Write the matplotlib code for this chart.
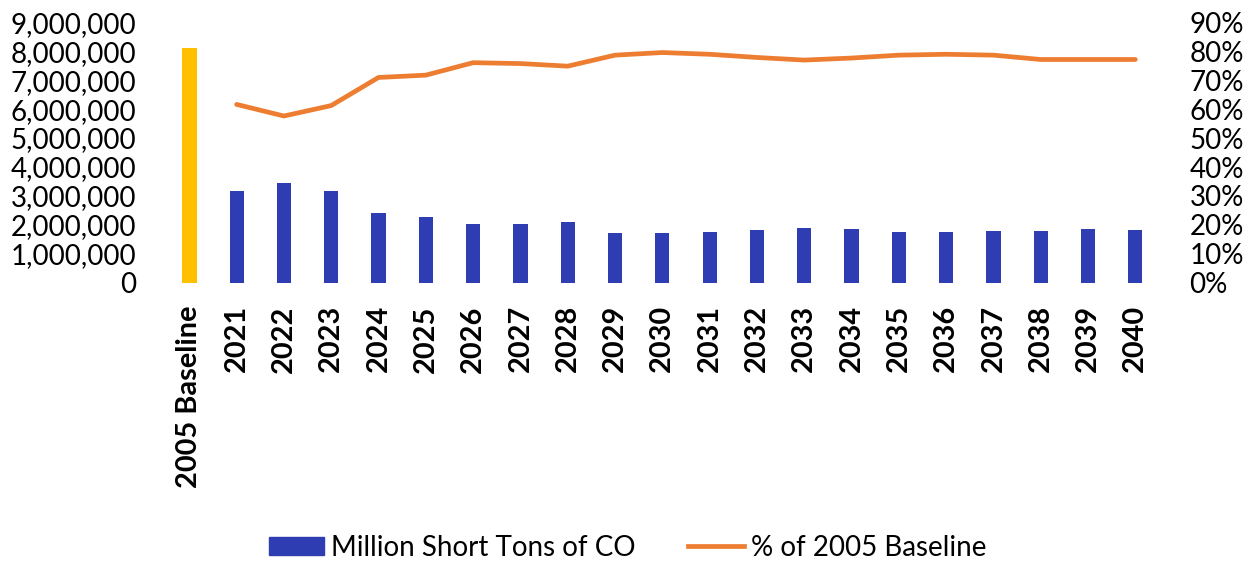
"""CO emissions vs 2005 baseline: bars plus percent line."""
import matplotlib
matplotlib.use("Agg")
import matplotlib.pyplot as plt
from matplotlib.patches import Patch
from matplotlib.lines import Line2D
from matplotlib.ticker import FuncFormatter

plt.rcParams["font.family"] = ["Lato", "DejaVu Sans"]

CATEGORIES = ["2005 Baseline"] + [str(y) for y in range(2021, 2041)]
BASELINE = 8110000
TONS = [3170000, 3460000, 3170000, 2420000, 2260000, 2020000, 2030000, 2100000,
        1730000, 1710000, 1770000, 1830000, 1890000, 1870000, 1760000, 1750000,
        1780000, 1800000, 1850000, 1830000]
PCT = [0.616, 0.576, 0.612, 0.709, 0.717, 0.760, 0.757, 0.748, 0.786, 0.795,
       0.789, 0.778, 0.769, 0.776, 0.786, 0.789, 0.786, 0.771, 0.771, 0.771]

YELLOW = "#FFC000"
BLUE = "#2E3DB2"
ORANGE = "#ED7D31"


def main() -> None:
    fig = plt.figure(figsize=(12.55, 5.67), dpi=100)
    ax = fig.add_axes([0.132, 0.501, 0.7915, 0.46])
    x = list(range(len(CATEGORIES)))

    ax.bar(x[0], BASELINE, width=0.32, color=YELLOW)
    ax.bar(x[1:], TONS, width=0.3, color=BLUE)
    ax.set_ylim(0, 9000000)
    ax.set_xlim(-0.5, len(CATEGORIES) - 0.5)
    ax.set_yticks(range(0, 9000001, 1000000))
    ax.yaxis.set_major_formatter(FuncFormatter(lambda v, _: f"{int(v):,}"))
    ax.set_xticks(x)
    ax.set_xticklabels(CATEGORIES, rotation=90, fontweight="bold", fontsize=20.8)
    ax.tick_params(axis="y", length=0, pad=21, labelsize=20)
    ax.tick_params(axis="x", length=0, pad=16)

    ax2 = ax.twinx()
    ax2.plot(x[1:], PCT, color=ORANGE, lw=3.4, solid_capstyle="round")
    ax2.set_ylim(0, 0.9)
    ax2.set_yticks([i / 10 for i in range(10)])
    ax2.yaxis.set_major_formatter(FuncFormatter(lambda v, _: f"{round(v * 100)}%"))
    ax2.tick_params(axis="y", length=0, pad=22, labelsize=20)

    for a in (ax, ax2):
        for s in a.spines.values():
            s.set_visible(False)

    handles = [Patch(color=BLUE), Line2D([0], [0], color=ORANGE, lw=3.4)]
    labels = ["Million Short Tons of CO", "% of 2005 Baseline"]
    fig.legend(handles, labels, loc="center", bbox_to_anchor=(0.5, 0.034),
               ncol=2, frameon=False, fontsize=20, handlelength=2.0,
               handleheight=0.6, handletextpad=0.25, columnspacing=1.9)

    fig.savefig("out.png", dpi=100)
    plt.close(fig)


if __name__ == "__main__":
    main()
